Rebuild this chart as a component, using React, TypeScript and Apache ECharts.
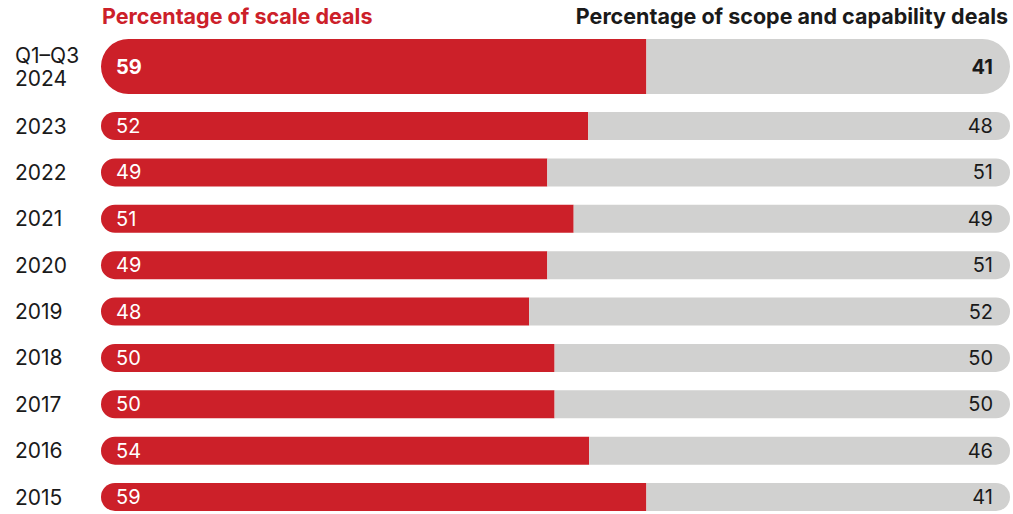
import React, { useEffect, useRef } from "react";
import * as echarts from "echarts";

const headlineCategory = ["Q1–Q3\n2024"];
const yearCategories = ["2023", "2022", "2021", "2020", "2019", "2018", "2017", "2016", "2015"];
// printed labels
const scaleLabels = [59, 52, 49, 51, 49, 48, 50, 50, 54, 59];
const scopeLabels = [41, 48, 51, 49, 51, 52, 50, 50, 46, 41];
// bar lengths as drawn in the picture (percent of full width)
const scaleBarShare = [60, 53.6, 49.1, 52, 49.1, 47.1, 49.9, 49.9, 53.7, 60];

const RED = "#CC2029";
const GRAY = "#D1D1D0";
const INK = "#1a1a1a";
const FONT = "Inter, 'Noto Sans', sans-serif";

export default function App() {
  const ref = useRef<HTMLDivElement>(null);
  useEffect(() => {
    document.body.style.margin = "0";
    const chart = echarts.init(ref.current!, undefined, { renderer: "svg" });
    const yAxisCommon = {
      type: "category" as const,
      inverse: true,
      axisLine: { show: false },
      axisTick: { show: false },
      axisLabel: {
        color: INK,
        fontSize: 21,
        fontFamily: FONT,
        align: "left" as const,
        margin: 86,
        lineHeight: 23,
      },
    };
    const xAxisCommon = { type: "value" as const, min: 0, max: 100, show: false };
    const mkSeries = (
      idx: number,
      values: number[],
      offset: number,
      width: number,
      bold: boolean
    ) => {
      const r = width / 2;
      return [
        {
          type: "bar",
          xAxisIndex: idx,
          yAxisIndex: idx,
          stack: "s" + idx,
          barWidth: width,
          data: values,
          itemStyle: { color: RED, borderRadius: [r, 0, 0, r] },
          label: {
            show: true,
            position: "insideLeft",
            distance: 15,
            color: "#ffffff",
            fontSize: 20,
            fontFamily: FONT,
            fontWeight: bold ? "bold" : "normal",
            formatter: (p: any) => String(scaleLabels[offset + p.dataIndex]),
          },
        },
        {
          type: "bar",
          xAxisIndex: idx,
          yAxisIndex: idx,
          stack: "s" + idx,
          barWidth: width,
          data: values.map((v) => 100 - v),
          itemStyle: { color: GRAY, borderRadius: [0, r, r, 0] },
          label: {
            show: true,
            position: "insideRight",
            distance: 17,
            color: INK,
            fontSize: 20,
            fontFamily: FONT,
            fontWeight: bold ? "bold" : "normal",
            formatter: (p: any) => String(scopeLabels[offset + p.dataIndex]),
          },
        },
      ];
    };
    chart.setOption({
      animation: false,
      title: [
        {
          text: "Percentage of scale deals",
          left: 102,
          top: 5,
          padding: 0,
          textStyle: { color: RED, fontSize: 21.5, fontWeight: "bold", fontFamily: FONT },
        },
        {
          text: "Percentage of scope and capability deals",
          right: 5,
          top: 5,
          padding: 0,
          textStyle: { color: INK, fontSize: 21.5, fontWeight: "bold", fontFamily: FONT },
        },
      ],
      grid: [
        { left: 101, width: 909, top: 39, height: 55 },
        { left: 101, width: 909, top: 126, height: 371 },
      ],
      xAxis: [
        { ...xAxisCommon, gridIndex: 0 },
        { ...xAxisCommon, gridIndex: 1 },
      ],
      yAxis: [
        { ...yAxisCommon, gridIndex: 0, data: headlineCategory },
        { ...yAxisCommon, gridIndex: 1, data: yearCategories, boundaryGap: false },
      ],
      series: [
        ...mkSeries(0, scaleBarShare.slice(0, 1), 0, 55, true),
        ...mkSeries(1, scaleBarShare.slice(1), 1, 28, false),
      ],
    });
    return () => chart.dispose();
  }, []);
  return <div ref={ref} style={{ width: 1013, height: 514 }} />;
}
